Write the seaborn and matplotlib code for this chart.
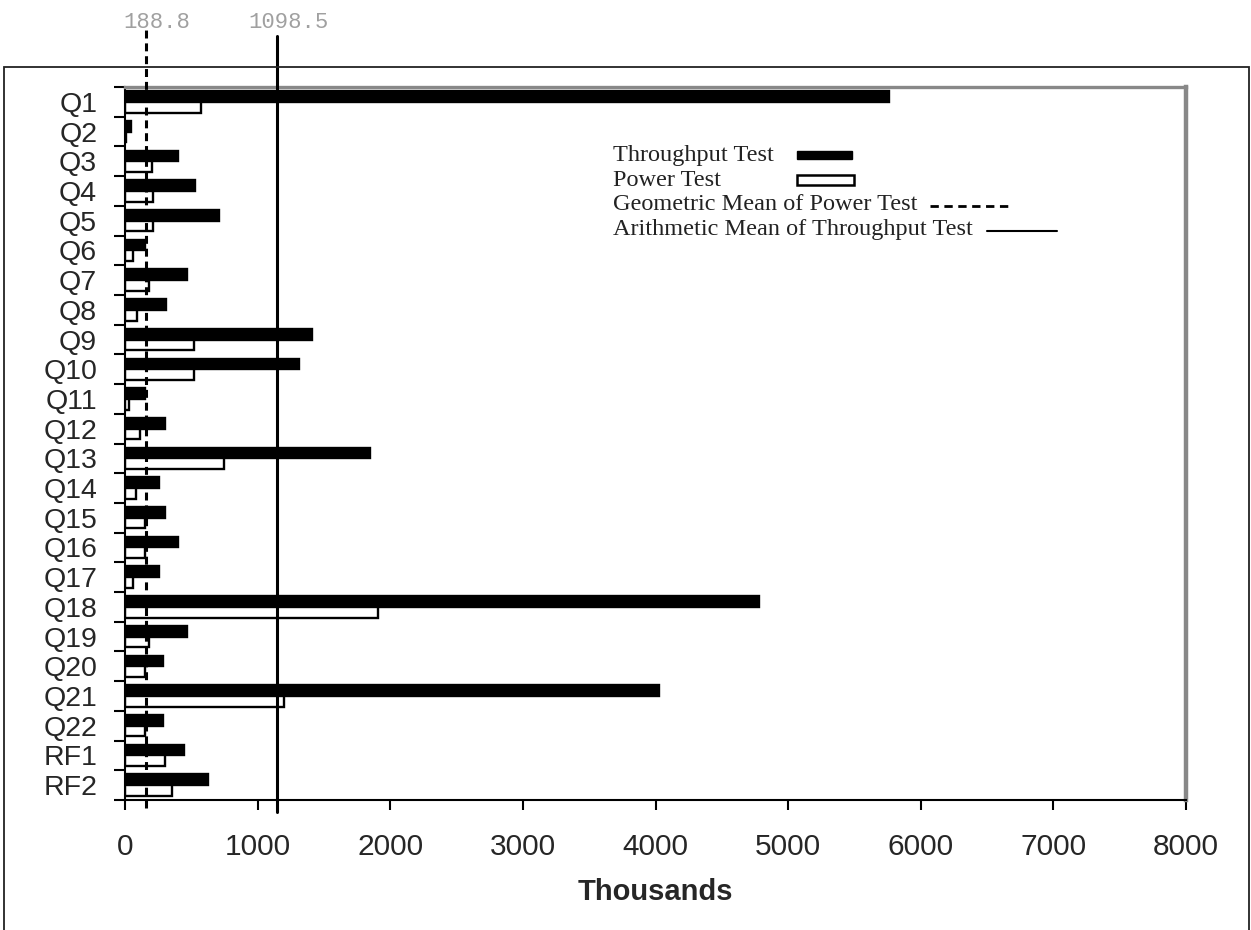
import numpy as np
import pandas as pd
import seaborn as sns
import matplotlib.pyplot as plt
from matplotlib.patches import Rectangle
from matplotlib.lines import Line2D

# values (thousands)
queries = ['Q1', 'Q2', 'Q3', 'Q4', 'Q5', 'Q6', 'Q7', 'Q8', 'Q9', 'Q10', 'Q11', 'Q12',
           'Q13', 'Q14', 'Q15', 'Q16', 'Q17', 'Q18', 'Q19', 'Q20', 'Q21', 'Q22', 'RF1', 'RF2']
throughput = [5760, 45, 400, 528, 709, 151, 468, 309, 1410, 1312, 151, 302,
              1847, 257, 302, 400, 257, 4780, 468, 287, 4027, 287, 445, 626]
power = [573, 5, 200, 211, 211, 60, 181, 90, 520, 520, 33, 113,
         747, 83, 150, 150, 60, 1908, 181, 151, 1199, 151, 302, 354]
series_names = ['Throughput Test', 'Power Test']
legend_labels = ['Throughput Test', 'Power Test',
                 'Geometric Mean of Power Test', 'Arithmetic Mean of Throughput Test']
mean_labels = ['188.8', '1098.5']
mean_positions = [158, 1146]   # where the two lines sit in the picture
x_ticks = [0, 1000, 2000, 3000, 4000, 5000, 6000, 7000, 8000]

sns.set_style('ticks')
plt.rcParams['font.family'] = ['Liberation Sans', 'DejaVu Sans']

df = pd.DataFrame({
    'query': queries * 2,
    'value': throughput + power,
    'test': [series_names[0]] * len(queries) + [series_names[1]] * len(queries),
})

W, H = 1251, 930
def fx(px):
    return px / W
def fy(py):
    return 1 - py / H

fig = plt.figure(figsize=(W / 100, H / 100), dpi=100)
ax = fig.add_axes([fx(125), fy(800), (1186 - 125) / W, (800 - 87) / H])

sns.barplot(data=df, y='query', x='value', hue='test', orient='h',
            hue_order=series_names, palette=['black', 'white'], saturation=1,
            edgecolor='black', linewidth=1.7, width=0.72, errorbar=None,
            legend=False, ax=ax)

ax.set_xlim(0, 8000)
ax.set_xticks(x_ticks)
ax.set_ylabel('')
ax.set_xlabel('Thousands', fontsize=21, fontweight='bold', labelpad=12)

# mean lines, running past the top of the plot
ax.axvline(mean_positions[0], ymin=-0.011, ymax=1.08, color='black', lw=2.2,
           linestyle=(0, (2.6, 1.6)), clip_on=False, zorder=5)
ax.axvline(mean_positions[1], ymin=-0.017, ymax=1.072, color='black', lw=2.2,
           clip_on=False, zorder=5)
for lab, pos in zip(mean_labels, mean_positions):
    ax.annotate(lab, xy=(pos, 1.091), xycoords=('data', 'axes fraction'),
                xytext=(8, 0), textcoords='offset points', ha='center', va='center',
                family=['Liberation Mono', 'DejaVu Sans Mono'], fontsize=16, color='#a0a0a0')

# ticks: y ticks between categories, labels centred
ax.set_yticks(np.arange(-0.5, len(queries)), minor=True)
ax.tick_params(axis='y', which='major', length=0, pad=20, labelsize=20.5)
ax.tick_params(axis='y', which='minor', length=8, width=1.5, direction='out', color='black')
ax.tick_params(axis='x', which='major', length=7, width=1.5, direction='out',
               pad=17, labelsize=21.5, color='black')

for side in ['left', 'bottom']:
    ax.spines[side].set_color('black')
    ax.spines[side].set_linewidth(1.5)
ax.spines['top'].set_color('#888888')
ax.spines['top'].set_linewidth(2.4)
ax.spines['right'].set_color('#888888')
ax.spines['right'].set_linewidth(3.2)

# legend, drawn as in the original (key right after each text)
rows = [155, 180, 204, 229]
for lab, r in zip(legend_labels, rows):
    fig.text(fx(613), fy(r), lab, va='center', ha='left', fontsize=17.5,
             family=['Liberation Serif', 'DejaVu Serif'], color='#222222')
fig.add_artist(Rectangle((fx(797), fy(159)), 55 / W, 8 / H, transform=fig.transFigure,
                         facecolor='black', edgecolor='black', lw=1))
fig.add_artist(Rectangle((fx(797), fy(185)), 57 / W, 10 / H, transform=fig.transFigure,
                         facecolor='white', edgecolor='black', lw=1.8))
fig.add_artist(Line2D([fx(930), fx(1008)], [fy(206), fy(206)], transform=fig.transFigure,
                      color='black', lw=2, linestyle=(0, (3, 2))))
fig.add_artist(Line2D([fx(987), fx(1057)], [fy(231), fy(231)], transform=fig.transFigure,
                      color='black', lw=1.5))

# outer frame of the chart area
fig.add_artist(Rectangle((fx(4), -0.05), 1245 / W, fy(67) + 0.05, transform=fig.transFigure,
                         fill=False, edgecolor='#222222', lw=1.3))

fig.savefig('out.png', dpi=100)
